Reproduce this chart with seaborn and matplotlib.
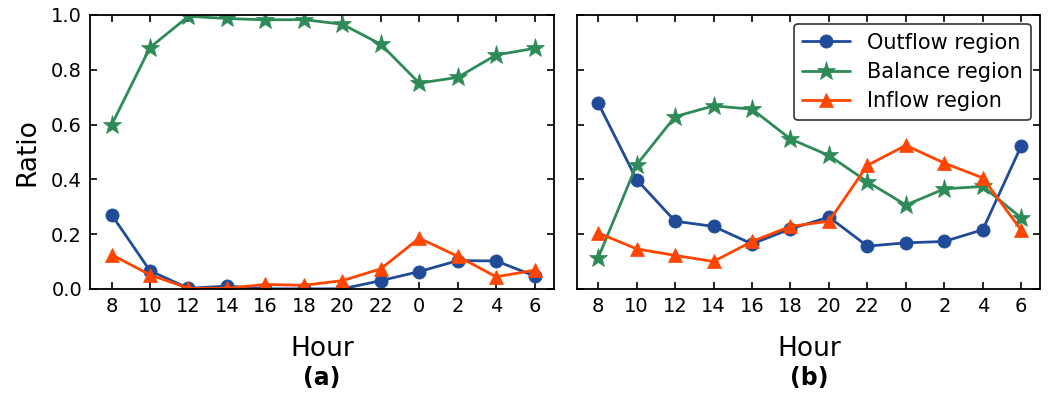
import matplotlib
matplotlib.use("Agg")
import matplotlib.pyplot as plt
import matplotlib.transforms as mtransforms
import seaborn as sns
import numpy as np

hours = ["8", "10", "12", "14", "16", "18", "20", "22", "0", "2", "4", "6"]

a_outflow = [0.271, 0.066, 0.002, 0.010, 0.0, 0.0, 0.0, 0.030, 0.063, 0.103, 0.102, 0.047]
a_balance = [0.598, 0.881, 0.995, 0.987, 0.982, 0.983, 0.966, 0.893, 0.751, 0.772, 0.854, 0.878]
a_inflow = [0.125, 0.051, 0.002, 0.002, 0.016, 0.013, 0.030, 0.073, 0.185, 0.119, 0.044, 0.068]

b_outflow = [0.678, 0.399, 0.247, 0.228, 0.164, 0.219, 0.262, 0.156, 0.168, 0.173, 0.216, 0.522]
b_balance = [0.113, 0.453, 0.629, 0.668, 0.656, 0.547, 0.487, 0.391, 0.306, 0.365, 0.374, 0.259]
b_inflow = [0.204, 0.146, 0.122, 0.100, 0.173, 0.228, 0.247, 0.451, 0.524, 0.459, 0.405, 0.214]

series_names = ["Outflow region", "Balance region", "Inflow region"]
colors = ["#1f4b98", "#2e8b57", "#ff4500"]
markers = ["o", "*", "^"]
msizes = [9.5, 14, 10]

sns.set_style("ticks", {"xtick.direction": "in", "ytick.direction": "in",
                        "xtick.top": True, "ytick.right": True,
                        "axes.edgecolor": "black", "text.color": "black",
                        "axes.labelcolor": "black", "xtick.color": "black",
                        "ytick.color": "black"})
plt.rcParams["font.family"] = ["DejaVu Sans"]

fig, axes = plt.subplots(1, 2, figsize=(10.51, 3.93), dpi=100, sharey=True)
fig.subplots_adjust(left=0.086, right=0.99, top=0.962, bottom=0.265, wspace=0.05)

x = np.arange(len(hours))
panels = [(a_outflow, a_balance, a_inflow), (b_outflow, b_balance, b_inflow)]
caps = ["(a)", "(b)"]
for ax, data, cap in zip(axes, panels, caps):
    for vals, name, c, m, ms in zip(data, series_names, colors, markers, msizes):
        sns.lineplot(x=x, y=vals, ax=ax, color=c, marker=m, markersize=ms,
                     markeredgecolor=c, markeredgewidth=0.5, linewidth=2.0,
                     label=name, legend=False)
    ax.set_xlim(-0.55, 11.5)
    ax.set_ylim(0, 1.0)
    ax.set_xticks(x)
    ax.set_xticklabels(hours)
    ax.set_yticks([0, 0.2, 0.4, 0.6, 0.8, 1.0])
    ax.tick_params(labelsize=14, length=5, width=1.2, colors="black", pad=6)
    ax.set_xlabel("Hour", fontsize=19, labelpad=14, color="black")
    for s in ax.spines.values():
        s.set_linewidth(1.3)
    trans = mtransforms.blended_transform_factory(ax.transAxes, fig.transFigure)
    ax.text(0.5, 0.038, cap, transform=trans, ha="center", va="center",
            fontsize=17, fontweight="bold", color="black")

axes[0].set_ylabel("Ratio", fontsize=19, labelpad=8, color="black")
axes[0].set_yticklabels(["0.0", "0.2", "0.4", "0.6", "0.8", "1.0"])
axes[1].tick_params(labelleft=False)

leg = axes[1].legend(loc="upper right", fontsize=15, frameon=True,
                     handlelength=2.3, borderaxespad=0.45, labelspacing=0.45,
                     fancybox=True)
leg.get_frame().set_edgecolor("black")
leg.get_frame().set_linewidth(1.2)
for t in leg.get_texts():
    t.set_color("black")

fig.savefig("out.png", dpi=100)
